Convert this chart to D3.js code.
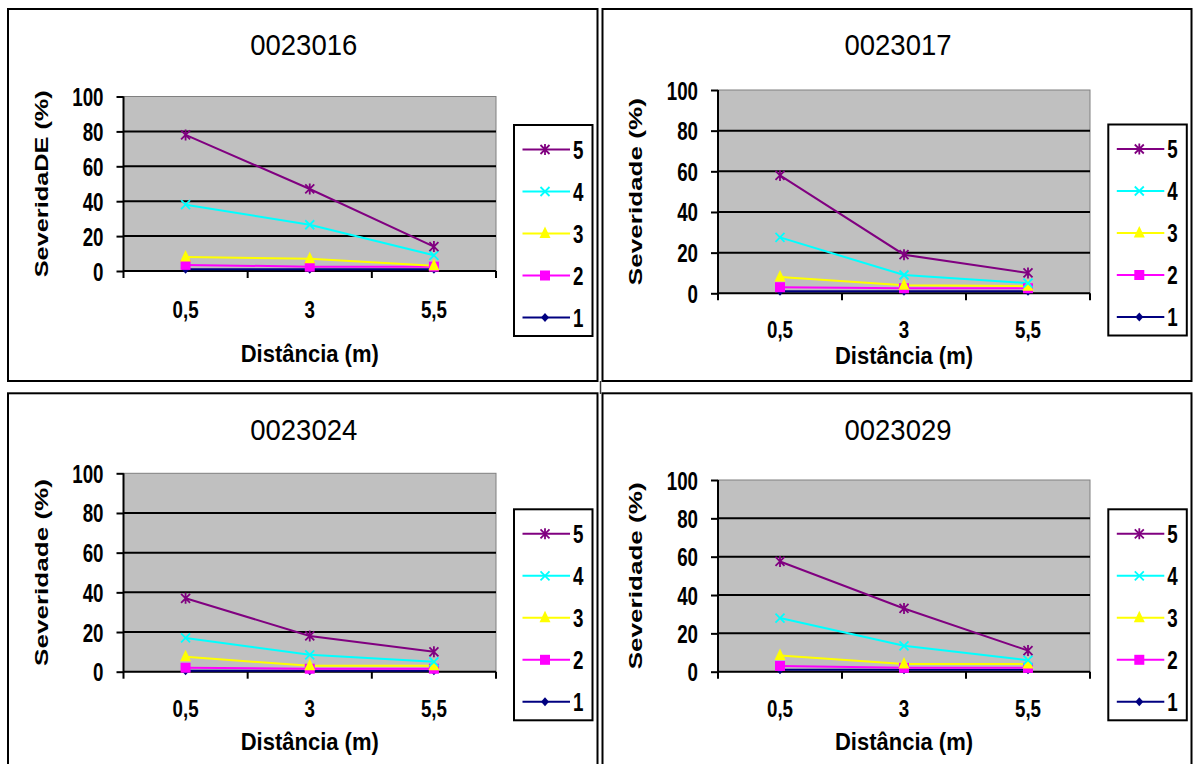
<!DOCTYPE html>
<html>
<head>
<meta charset="utf-8">
<script src="https://cdn.jsdelivr.net/npm/d3@7"></script>
<style>
  body { margin: 0; background: #fff; }
  text { font-family: "Liberation Sans", Arial, sans-serif; fill: #000; }
</style>
</head>
<body>
<div id="container"></div>
<script>
// ---- data ----
const categories = ["0,5", "3", "5,5"];
const seriesNames = ["1", "2", "3", "4", "5"];
const yTicks = [0, 20, 40, 60, 80, 100];
const titles = ["0023016", "0023017", "0023024", "0023029"];
const yTitles = ["SeveridaDE (%)", "Severidade (%)", "Severidade (%)", "Severidade (%)"];
const xTitle = "Distância (m)";

// one row per series (1..5), one value per distance
const values0023016 = [[1, 1, 1], [3.5, 2.5, 2.5], [8, 7, 3], [38, 26.5, 9], [78, 47, 14]];
const values0023017 = [[1, 1, 1], [3, 2.5, 2.5], [8, 4, 3.5], [27.5, 9, 5], [58, 19, 10]];
const values0023024 = [[0.5, 0.5, 0.5], [2, 1.5, 1.5], [7.5, 3, 3], [17, 8.5, 5], [37, 18, 10]];
const values0023029 = [[1, 1, 1], [3, 2, 2], [8.5, 4, 4], [28, 13.5, 6], [57.5, 33, 11]];
const allValues = [values0023016, values0023017, values0023024, values0023029];

// excel 97 default series look
const colors = ["#000080", "#ff00ff", "#ffff00", "#00ffff", "#800080"];
const markers = ["diamond", "square", "triangle", "x", "star"];

// ---- layout of the four panels ----
const panels = [
  {bx0: 8, by0: 9, bx1: 597.5, by1: 381, x0: 123.5, x1: 496, yTop: 96.5, yBot: 271, titleY: 55, tickY: 318, axY: 362, legX: 514, legY: 125},
  {bx0: 602.5, by0: 9, bx1: 1191.5, by1: 381, x0: 718, x1: 1090, yTop: 90, yBot: 293.3, titleY: 55, tickY: 338, axY: 364, legX: 1108.3, legY: 124.5},
  {bx0: 8, by0: 393.3, bx1: 597.5, by1: 780, x0: 123.5, x1: 496, yTop: 473.3, yBot: 671.7, titleY: 440, tickY: 717, axY: 750, legX: 514, legY: 509.3},
  {bx0: 602.5, by0: 393.3, bx1: 1191.5, by1: 780, x0: 718, x1: 1090, yTop: 480, yBot: 671.7, titleY: 440, tickY: 717, axY: 750, legX: 1108.3, legY: 509.3}
];

let svg = d3.select("#container")
            .append("svg")
              .attr("width", 1194)
              .attr("height", 764);

// squeeze bold Arial into something like Arial Narrow
function narrow(sel, k) {
  sel.each(function() {
    let n = this.getComputedTextLength();
    d3.select(this).attr("textLength", n * k).attr("lengthAdjust", "spacingAndGlyphs");
  });
}

function drawMarker(g, type, x, y, color) {
  if (type == "diamond") {
    g.append("path").attr("d", `M${x},${y - 4.5}L${x + 4},${y}L${x},${y + 4.5}L${x - 4},${y}Z`).attr("fill", color);
  } else if (type == "square") {
    g.append("rect").attr("x", x - 5).attr("y", y - 5).attr("width", 10).attr("height", 10).attr("fill", color);
  } else if (type == "triangle") {
    g.append("path").attr("d", `M${x},${y - 7}L${x + 5.5},${y + 4.5}L${x - 5.5},${y + 4.5}Z`).attr("fill", color);
  } else if (type == "x") {
    g.append("path").attr("d", `M${x - 4.5},${y - 4.5}L${x + 4.5},${y + 4.5}M${x + 4.5},${y - 4.5}L${x - 4.5},${y + 4.5}`)
      .attr("stroke", color).attr("stroke-width", 1.8).attr("fill", "none");
  } else {
    g.append("path").attr("d", `M${x - 4.5},${y - 4.5}L${x + 4.5},${y + 4.5}M${x + 4.5},${y - 4.5}L${x - 4.5},${y + 4.5}M${x},${y - 5.5}L${x},${y + 5.5}`)
      .attr("stroke", color).attr("stroke-width", 1.8).attr("fill", "none");
  }
}

// little connector between the two rows of the table
svg.append("line").attr("x1", 600.5).attr("x2", 600.5).attr("y1", 381).attr("y2", 394)
   .attr("stroke", "#333").attr("stroke-width", 1.5);

panels.forEach(function(p, i) {
  let g = svg.append("g");
  let data = allValues[i];

  // panel frame
  g.append("rect")
    .attr("x", p.bx0).attr("y", p.by0)
    .attr("width", p.bx1 - p.bx0).attr("height", p.by1 - p.by0)
    .attr("fill", "none").attr("stroke", "#000").attr("stroke-width", 2);

  let xScale = d3.scalePoint().domain(categories).range([p.x0, p.x1]).padding(0.5);
  let yScale = d3.scaleLinear().domain([0, 100]).range([p.yBot, p.yTop]);
  let step = xScale.step();

  // plot area
  g.append("rect")
    .attr("x", p.x0).attr("y", p.yTop)
    .attr("width", p.x1 - p.x0).attr("height", p.yBot - p.yTop)
    .attr("fill", "#c0c0c0").attr("stroke", "#808080").attr("stroke-width", 1);

  // gridlines
  g.selectAll(".grid").data(yTicks.filter(d => d > 0 && d < 100)).enter()
    .append("line")
      .attr("x1", p.x0).attr("x2", p.x1)
      .attr("y1", d => yScale(d)).attr("y2", d => yScale(d))
      .attr("stroke", "#000").attr("stroke-width", 2);

  // y axis with outward ticks
  let yAxis = d3.axisLeft(yScale).tickValues(yTicks).tickSize(7).tickPadding(13);
  let yAxisGroup = g.append("g").attr("transform", "translate(" + p.x0 + ",0)").call(yAxis);
  yAxisGroup.select(".domain").attr("stroke", "#000").attr("stroke-width", 2).attr("d", `M0,${p.yTop}V${p.yBot}`);
  yAxisGroup.selectAll(".tick line").attr("stroke", "#000").attr("stroke-width", 2);
  yAxisGroup.selectAll(".tick text")
    .attr("font-family", "Liberation Sans, Arial, sans-serif")
    .attr("font-weight", "bold").attr("font-size", 25)
    .attr("dy", "0.36em");
  narrow(yAxisGroup.selectAll(".tick text"), 0.75);

  // x axis: ticks sit between categories
  let bounds = d3.range(categories.length + 1).map(k => p.x0 + k * step);
  g.append("line")
    .attr("x1", p.x0).attr("x2", p.x1).attr("y1", p.yBot).attr("y2", p.yBot)
    .attr("stroke", "#000").attr("stroke-width", 2);
  g.selectAll(".xtick").data(bounds).enter()
    .append("line")
      .attr("x1", d => d).attr("x2", d => d)
      .attr("y1", p.yBot).attr("y2", p.yBot + 7)
      .attr("stroke", "#000").attr("stroke-width", 2);
  let xLabels = g.selectAll(".xlab").data(categories).enter()
    .append("text")
      .attr("x", d => xScale(d)).attr("y", p.tickY)
      .attr("text-anchor", "middle")
      .attr("font-weight", "bold").attr("font-size", 24)
      .text(d => d);
  narrow(xLabels, 0.78);

  // titles
  g.append("text")
    .attr("x", (p.x0 + p.x1) / 2 - 6).attr("y", p.titleY)
    .attr("text-anchor", "middle").attr("font-size", 30)
    .attr("textLength", 107).attr("lengthAdjust", "spacingAndGlyphs")
    .text(titles[i]);
  g.append("text")
    .attr("x", (p.x0 + p.x1) / 2).attr("y", p.axY)
    .attr("text-anchor", "middle").attr("font-weight", "bold").attr("font-size", 24)
    .attr("textLength", 138).attr("lengthAdjust", "spacingAndGlyphs")
    .text(xTitle);
  let cy = (p.yTop + p.yBot) / 2;
  g.append("text")
    .attr("transform", "translate(" + (p.x0 - 76) + "," + cy + ") rotate(-90)")
    .attr("text-anchor", "middle").attr("font-weight", "bold").attr("font-size", 18)
    .attr("textLength", 187).attr("lengthAdjust", "spacingAndGlyphs")
    .text(yTitles[i]);

  // series lines and markers, 1 first so 5 ends on top
  let line = d3.line().x((d, k) => xScale(categories[k])).y(d => yScale(d));
  data.forEach(function(vals, s) {
    g.append("path")
      .attr("d", line(vals))
      .attr("fill", "none").attr("stroke", colors[s]).attr("stroke-width", 2);
  });
  data.forEach(function(vals, s) {
    vals.forEach(function(v, k) {
      drawMarker(g, markers[s], xScale(categories[k]), yScale(v), colors[s]);
    });
  });

  // legend, 5 on top
  let leg = g.append("g").attr("transform", "translate(" + p.legX + "," + p.legY + ")");
  leg.append("rect").attr("width", 78.5).attr("height", 211)
    .attr("fill", "#fff").attr("stroke", "#000").attr("stroke-width", 2);
  seriesNames.slice().reverse().forEach(function(name, r) {
    let s = seriesNames.length - 1 - r;
    let ly = 24.5 + r * 42;
    leg.append("line").attr("x1", 8.5).attr("x2", 56).attr("y1", ly).attr("y2", ly)
      .attr("stroke", colors[s]).attr("stroke-width", 2);
    drawMarker(leg, markers[s], 31, ly, colors[s]);
    let t = leg.append("text").attr("x", 59).attr("y", ly + 9)
      .attr("font-weight", "bold").attr("font-size", 25).text(name);
    narrow(t, 0.75);
  });
});
</script>
</body>
</html>
